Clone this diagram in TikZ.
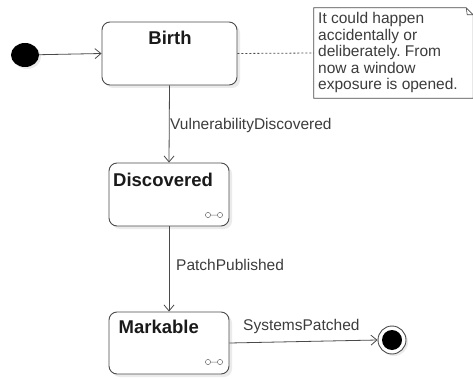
\documentclass[tikz,border=0pt]{standalone}
\usepackage{fontspec}
\setmainfont{Liberation Sans}
\usetikzlibrary{shadows,arrows.meta,shapes.geometric}
\definecolor{edge}{HTML}{4A4A4A}
\definecolor{ink}{HTML}{1A1A1A}
\begin{document}
\frenchspacing
\begin{tikzpicture}[x=1pt,y=-1pt,
  statebox/.style={draw=edge, line width=0.9pt, fill=white, rounded corners=8pt, inner sep=0pt,
    drop shadow={shadow xshift=3pt, shadow yshift=-3pt, fill=black, opacity=0.08}},
  title/.style={font=\fontsize{18.5}{20}\selectfont\bfseries, text=ink, inner sep=0pt},
  lbl/.style={font=\fontsize{15.5}{17}\selectfont, text=ink!85, inner sep=0pt, anchor=west},
  conn/.style={draw=edge, line width=0.8pt},
  arr/.style={conn, -{Straight Barb[length=6pt,width=10pt,line width=0.8pt]}},
  icon/.style={draw=edge!80, line width=0.5pt}
]
\useasboundingbox (0,0) rectangle (473,379);

% initial state
\node[ellipse, fill=black, minimum width=28pt, minimum height=24pt, inner sep=0pt,
  drop shadow={shadow xshift=2pt, shadow yshift=-2pt, fill=black, opacity=0.08}] (init) at (25,55) {};

% states
\node[statebox, minimum width=135pt, minimum height=63pt] (birth) at (169.5,53.5) {};
\node[title] (birtht) at (170,38) {Birth};

\node[statebox, minimum width=120pt, minimum height=63pt] (disc) at (169,194.5) {};
\node[title, anchor=west] (disct) at (113,180) {Discovered};

\node[statebox, minimum width=120pt, minimum height=62pt] (mark) at (169,343) {};
\node[title, anchor=west] (markt) at (118.5,327) {Markable};

% composite icons
\foreach \yy in {215, 362}{
  \draw[icon] (208,\yy) circle (2.6pt) (210.6,\yy) -- (217.4,\yy) (220,\yy) circle (2.6pt);
}

% final state
\node[circle, draw=edge, line width=0.9pt, fill=white, minimum size=28pt, inner sep=0pt,
  drop shadow={shadow xshift=2pt, shadow yshift=-2pt, fill=black, opacity=0.08}] (final) at (392,340) {};
\node[circle, fill=black, minimum size=20pt, inner sep=0pt] (finalin) at (final) {};

% note
\node[minimum width=159pt, minimum height=90pt, inner sep=0pt] (note) at (393.5,53) {};
\draw[edge, line width=0.8pt, fill=white]
  (note.north west) -- ([xshift=-7pt]note.north east) -- ([yshift=-7pt]note.north east)
  -- (note.south east) -- (note.south west) -- cycle;
\draw[edge, line width=0.6pt] ([xshift=-7pt]note.north east) -- ([xshift=-6pt,yshift=-7pt]note.north east) -- ([yshift=-7pt]note.north east);
\node[anchor=north west, align=left, inner sep=0pt, text=ink!85,
  font=\fontsize{15.5}{16.6}\selectfont] (notet) at (318,12)
  {It could happen\\accidentally or\\deliberately. From\\now a window\\exposure is opened.};

% connectors
\draw[arr] (init) -- (birth.west);
\draw[conn, dash pattern=on 2pt off 2pt] (birth.east) -- (note.west);
\draw[arr] (birth.south) -- (disc.north);
\draw[arr] (disc.south) -- (mark.north);
\draw[arr] (mark.east) -- (final.west);

% labels
\node[lbl] (l1) at (170,125) {VulnerabilityDiscovered};
\node[lbl] (l2) at (176,265) {PatchPublished};
\node[lbl] (l3) at (243,326) {SystemsPatched};
\end{tikzpicture}
\end{document}
